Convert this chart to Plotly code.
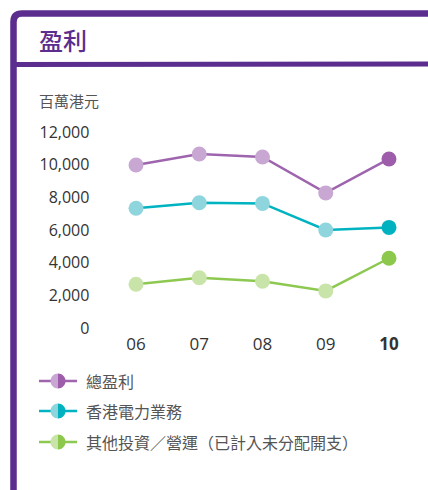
import plotly.graph_objects as go

years = ["06", "07", "08", "09", "10"]
year_labels = ["06", "07", "08", "09", "<b>10</b>"]
total_profit = [9980, 10650, 10470, 8270, 10350]
hk_electric = [7330, 7670, 7630, 6000, 6160]
other_invest = [2680, 3080, 2860, 2270, 4270]
series_names = ["總盈利", "香港電力業務", "其他投資／營運（已計入未分配開支）"]
y_ticks = [0, 2000, 4000, 6000, 8000, 10000, 12000]
y_tick_labels = ["0", "2,000", "4,000", "6,000", "8,000", "10,000", "12,000"]

W, H = 428, 490
FONT = "Open Sans, Noto Sans CJK TC, sans-serif"
BORDER = "#5B2D8E"

styles = [
    ("#9E65AE", "#C9A7D3", "#9E5DAB"),
    ("#00B3C1", "#8ED5DD", "#00B2BF"),
    ("#8DC850", "#C9E4A9", "#8CC84C"),
]
data = [total_profit, hk_electric, other_invest]

def px(x):
    return x / W

def py(y):
    return 1 - y / H

def pt(x, y):
    return f"{px(x):.5f},{py(y):.5f}"

fig = go.Figure()
for vals, name, (lc, light, dark) in zip(data, series_names, styles):
    fig.add_trace(go.Scatter(
        x=list(range(len(years))), y=vals, name=name, mode="lines+markers",
        line=dict(color=lc, width=2.5),
        marker=dict(size=15, color=[light] * (len(vals) - 1) + [dark], line=dict(width=0)),
        cliponaxis=False, showlegend=False,
    ))

shapes = []
# Frame
shapes.append(dict(type="path", xref="paper", yref="paper",
                   path=f"M {pt(13.5, 495)} L {pt(13.5, 22)} Q {pt(13.5, 13.5)} {pt(22, 13.5)} L {pt(430, 13.5)}",
                   line=dict(color=BORDER, width=6.5)))
shapes.append(dict(type="line", xref="paper", yref="paper",
                   x0=px(13), x1=px(430), y0=py(64.5), y1=py(64), line=dict(color=BORDER, width=5)))

annotations = [
    dict(text="盈利", x=px(37), y=py(40), xref="paper", yref="paper", xanchor="left", yanchor="middle",
         showarrow=False, font=dict(family="Noto Sans CJK TC", size=24, color=BORDER, weight=500)),
    dict(text="百萬港元", x=px(37), y=py(100), xref="paper", yref="paper", xanchor="left", yanchor="middle",
         showarrow=False, font=dict(family="Noto Sans CJK TC", size=15, color="#555555")),
]

# Legend (manual)
leg_y = [381, 411, 442]
r = 7.5
k = 0.5523
for yy, name, (lc, light, dark) in zip(leg_y, series_names, styles):
    shapes.append(dict(type="line", xref="paper", yref="paper", x0=px(39), x1=px(77), y0=py(yy), y1=py(yy),
                       line=dict(color=lc, width=2.5)))
    cx = 58
    for s, col in ((-1, light), (1, dark)):
        path = (f"M {pt(cx, yy - r)} C {pt(cx + s * k * r, yy - r)} {pt(cx + s * r, yy - k * r)} {pt(cx + s * r, yy)} "
                f"C {pt(cx + s * r, yy + k * r)} {pt(cx + s * k * r, yy + r)} {pt(cx, yy + r)} Z")
        shapes.append(dict(type="path", xref="paper", yref="paper", fillcolor=col, line=dict(width=0), path=path))
    annotations.append(dict(text=name, x=px(84), y=py(yy), xref="paper", yref="paper", xanchor="left",
                            yanchor="middle", showarrow=False,
                            font=dict(family="Noto Sans CJK TC", size=16, color="#555555")))

fig.update_layout(
    width=W, height=H, margin=dict(l=0, r=0, t=0, b=0),
    paper_bgcolor="white", plot_bgcolor="white",
    font=dict(family=FONT, color="#444444", size=16),
    shapes=shapes, annotations=annotations,
    xaxis=dict(domain=[px(104.4), px(420.6)], range=[-0.5, 4.5], tickmode="array",
               tickvals=list(range(len(years))), ticktext=year_labels, showgrid=False, zeroline=False,
               showline=False, ticks="", ticklabelstandoff=4, automargin=False,
               tickfont=dict(family=FONT, size=17, color="#333333")),
    yaxis=dict(domain=[py(328), py(132)], range=[0, 12000], tickmode="array", tickvals=y_ticks,
               ticktext=y_tick_labels, showgrid=False, zeroline=False, showline=False, ticks="",
               ticklabelstandoff=14, automargin=False,
               tickfont=dict(family=FONT, size=16, color="#333333")),
)

fig.write_html("out.html", config={"displayModeBar": False},
               post_script="document.body.style.margin='0';document.body.style.overflow='hidden';")
